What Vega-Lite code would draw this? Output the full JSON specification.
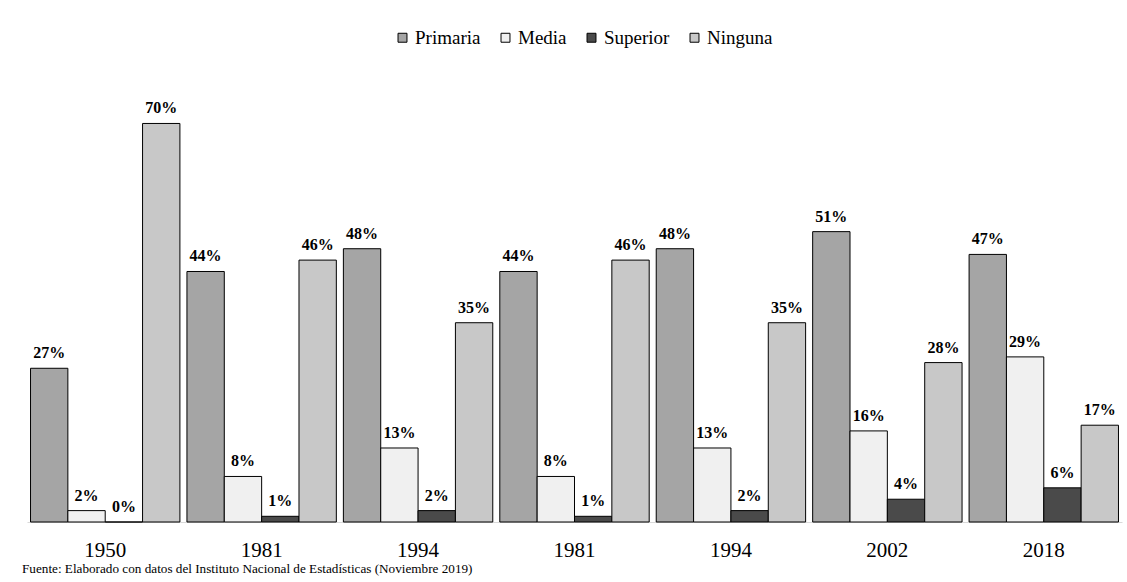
{
  "$schema": "https://vega.github.io/schema/vega-lite/v6.json",
  "autosize": "none",
  "width": 1095,
  "height": 427,
  "padding": {"left": 27, "top": 95, "right": 5, "bottom": 60},
  "background": "white",
  "config": {
    "view": {"stroke": null},
    "font": "Liberation Serif, Times New Roman, serif",
    "text": {"font": "Liberation Serif, Times New Roman, serif"},
    "legend": {"labelFont": "Liberation Serif, Times New Roman, serif", "labelFontSize": 19, "labelColor": "black"}
  },
  "title": {
    "text": "Fuente: Elaborado con datos del Instituto Nacional de Estadísticas (Noviembre 2019)",
    "orient": "bottom",
    "anchor": "start",
    "frame": "group",
    "dx": -5,
    "offset": 3,
    "font": "Liberation Serif, Times New Roman, serif",
    "fontSize": 13.2,
    "fontWeight": "normal",
    "color": "black"
  },
  "data": {
    "values": [
      {"periodo": "1950", "nivel": "Primaria", "valor": 0.27},
      {"periodo": "1950", "nivel": "Media", "valor": 0.02},
      {"periodo": "1950", "nivel": "Superior", "valor": 0.0},
      {"periodo": "1950", "nivel": "Ninguna", "valor": 0.70},
      {"periodo": "1981", "nivel": "Primaria", "valor": 0.44},
      {"periodo": "1981", "nivel": "Media", "valor": 0.08},
      {"periodo": "1981", "nivel": "Superior", "valor": 0.01},
      {"periodo": "1981", "nivel": "Ninguna", "valor": 0.46},
      {"periodo": "1994", "nivel": "Primaria", "valor": 0.48},
      {"periodo": "1994", "nivel": "Media", "valor": 0.13},
      {"periodo": "1994", "nivel": "Superior", "valor": 0.02},
      {"periodo": "1994", "nivel": "Ninguna", "valor": 0.35},
      {"periodo": "1981b", "nivel": "Primaria", "valor": 0.44},
      {"periodo": "1981b", "nivel": "Media", "valor": 0.08},
      {"periodo": "1981b", "nivel": "Superior", "valor": 0.01},
      {"periodo": "1981b", "nivel": "Ninguna", "valor": 0.46},
      {"periodo": "1994b", "nivel": "Primaria", "valor": 0.48},
      {"periodo": "1994b", "nivel": "Media", "valor": 0.13},
      {"periodo": "1994b", "nivel": "Superior", "valor": 0.02},
      {"periodo": "1994b", "nivel": "Ninguna", "valor": 0.35},
      {"periodo": "2002", "nivel": "Primaria", "valor": 0.51},
      {"periodo": "2002", "nivel": "Media", "valor": 0.16},
      {"periodo": "2002", "nivel": "Superior", "valor": 0.04},
      {"periodo": "2002", "nivel": "Ninguna", "valor": 0.28},
      {"periodo": "2018", "nivel": "Primaria", "valor": 0.47},
      {"periodo": "2018", "nivel": "Media", "valor": 0.29},
      {"periodo": "2018", "nivel": "Superior", "valor": 0.06},
      {"periodo": "2018", "nivel": "Ninguna", "valor": 0.17}
    ]
  },
  "encoding": {
    "x": {
      "field": "periodo",
      "type": "nominal",
      "sort": ["1950", "1981", "1994", "1981b", "1994b", "2002", "2018"],
      "scale": {"paddingInner": 0.045, "paddingOuter": 0.0225},
      "axis": {
        "title": null,
        "labelExpr": "slice(datum.label, 0, 4)",
        "labelAngle": 0,
        "labelFont": "Liberation Serif, Times New Roman, serif",
        "labelFontSize": 21,
        "labelColor": "black",
        "labelPadding": 17,
        "ticks": false,
        "domainColor": "#d9d9d9"
      }
    },
    "xOffset": {
      "field": "nivel",
      "type": "nominal",
      "sort": ["Primaria", "Media", "Superior", "Ninguna"],
      "scale": {"paddingInner": 0, "paddingOuter": 0}
    },
    "y": {
      "field": "valor",
      "type": "quantitative",
      "scale": {"domain": [0, 0.75], "nice": false},
      "axis": null
    }
  },
  "layer": [
    {
      "mark": {"type": "bar", "stroke": "black", "strokeWidth": 1, "opacity": 1},
      "encoding": {
        "fill": {
          "field": "nivel",
          "type": "nominal",
          "sort": ["Primaria", "Media", "Superior", "Ninguna"],
          "scale": {
            "domain": ["Primaria", "Media", "Superior", "Ninguna"],
            "range": ["#a5a5a5", "#f0f0f0", "#4a4a4a", "#c8c8c8"]
          },
          "legend": {
            "title": null,
            "orient": "none",
            "direction": "horizontal",
            "legendX": 366,
            "legendY": -67,
            "symbolType": "square",
            "symbolSize": 80,
            "symbolStrokeColor": "black",
            "symbolStrokeWidth": 1,
            "labelFont": "Liberation Serif, Times New Roman, serif",
            "labelFontSize": 19,
            "labelColor": "black",
            "labelOffset": 3,
            "columnPadding": 15,
            "encode": {
              "labels": {
                "update": {
                  "font": {"value": "Liberation Serif"},
                  "fontSize": {"value": 19}
                }
              }
            }
          }
        }
      }
    },
    {
      "mark": {
        "type": "text",
        "baseline": "bottom",
        "dy": -7,
        "font": "Liberation Serif, Times New Roman, serif",
        "fontWeight": "bold",
        "fontSize": 16,
        "color": "black"
      },
      "encoding": {
        "text": {"field": "valor", "type": "quantitative", "format": ".0%"},
        "detail": {"field": "nivel"}
      }
    }
  ]
}
